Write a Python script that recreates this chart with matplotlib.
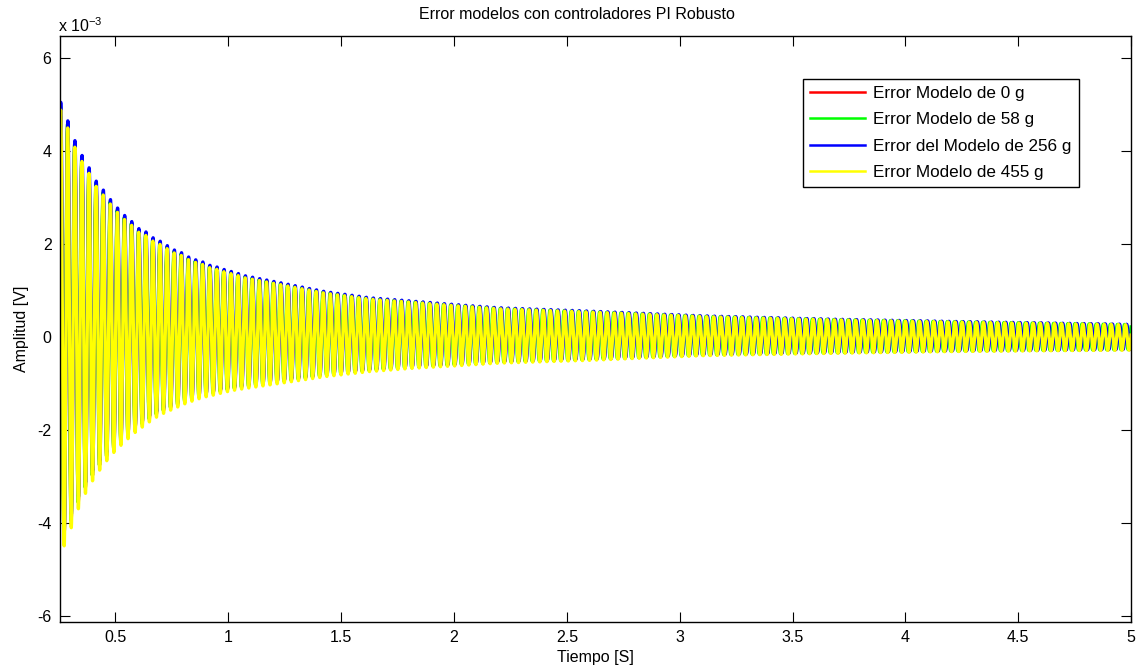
import numpy as np
import matplotlib
matplotlib.use("Agg")
import matplotlib.pyplot as plt
from matplotlib.ticker import FuncFormatter

plt.rcParams['font.family'] = ['Liberation Sans', 'DejaVu Sans']
plt.rcParams['mathtext.default'] = 'regular'

# Envelope of the error oscillation (units of 1e-3 V): upper and lower peaks
env_t = [0.254, 0.29, 0.32, 0.35, 0.385, 0.415, 0.45, 0.48, 0.51, 0.54, 0.57,
         0.60, 0.635, 0.665, 0.70, 0.73, 0.76, 0.79, 0.82, 0.85, 0.885, 0.915,
         0.95, 0.98, 1.01, 1.04, 1.07, 1.43, 1.63, 1.82, 2.0, 2.2, 2.6, 3.1,
         3.67, 4.23, 5.0]
env_upper = [5.00, 4.55, 4.15, 3.85, 3.56, 3.29, 3.08, 2.89, 2.72, 2.57, 2.45,
             2.30, 2.22, 2.10, 2.02, 1.93, 1.84, 1.79, 1.70, 1.64, 1.59, 1.52,
             1.48, 1.43, 1.39, 1.35, 1.30, 0.96, 0.83, 0.76, 0.69, 0.62, 0.55,
             0.45, 0.38, 0.33, 0.27]
env_lower = [-4.70, -4.30, -3.88, -3.52, -3.20, -2.96, -2.73, -2.55, -2.39,
             -2.26, -2.12, -2.00, -1.88, -1.77, -1.67, -1.60, -1.54, -1.47,
             -1.41, -1.36, -1.30, -1.27, -1.23, -1.19, -1.16, -1.13, -1.11,
             -0.85, -0.74, -0.67, -0.62, -0.56, -0.50, -0.40, -0.35, -0.31,
             -0.28]

# Oscillation of each model's error
labels = ['Error Modelo de 0 g', 'Error Modelo de 58 g',
          'Error del Modelo de 256 g', 'Error Modelo de 455 g']
colors = ['#ff0000', '#00ff00', '#0000ff', '#ffff00']
gain_upper = [0.995, 1.0, 1.02, 0.985]
gain_lower = [0.96, 0.96, 0.93, 1.0]
freq_hz = [31.77, 31.81, 31.76, 31.79]
phase_cycles = [0.015, 0.025, -0.015, 0.0]
t_first_peak = 0.257

t_start, t_end = 0.254, 5.0
y_scale = 1e-3

x_ticks = [0.5, 1, 1.5, 2, 2.5, 3, 3.5, 4, 4.5, 5]
y_ticks = [-6, -4, -2, 0, 2, 4, 6]

fig = plt.figure(figsize=(11.42, 6.72), dpi=100)
ax = fig.add_axes([0.0525, 0.0744, 0.9379, 0.872])

t = np.arange(t_start, t_end + 1e-9, 0.0004)
up = np.interp(t, env_t, env_upper)
lo = np.interp(t, env_t, env_lower)

for lab, col, gu, gl, f, ph in zip(labels, colors, gain_upper, gain_lower,
                                   freq_hz, phase_cycles):
    u = gu * up
    l = gl * lo
    wave = np.cos(2 * np.pi * (f * (t - t_first_peak) + ph))
    y = (u + l) / 2 + (u - l) / 2 * wave
    ax.plot(t, y * y_scale, color=col, lw=2.4, label=lab)

ax.set_xlim(t_start, t_end)
ax.set_ylim(-6.13 * y_scale, 6.48 * y_scale)
ax.set_xticks(x_ticks)
ax.set_xticklabels([f'{v:g}' for v in x_ticks])
ax.set_yticks([v * y_scale for v in y_ticks])
ax.yaxis.set_major_formatter(FuncFormatter(lambda v, p: f'{v / y_scale:.0f}'))

ax.tick_params(direction='in', length=7, width=0.8, top=True, right=True,
               labelsize=11.5, pad=6, colors='black')
for s in ax.spines.values():
    s.set_linewidth(1.0)

fig.text(0.051, 0.962, r'x 10$^{-3}$', fontsize=11.5, ha='left', va='center')
fig.text(0.5055, 0.979, 'Error modelos con controladores PI Robusto',
         fontsize=11.5, ha='center', va='center')
ax.set_xlabel('Tiempo [S]', fontsize=11.5, labelpad=3)
ax.set_ylabel('Amplitud [V]', fontsize=11.5, labelpad=6)

leg = ax.legend(loc='upper left', bbox_to_anchor=(0.703, 0.8824),
                bbox_transform=fig.transFigure, fontsize=12.3, frameon=True,
                fancybox=False, edgecolor='black', framealpha=1,
                handlelength=3.2, handletextpad=0.5, labelspacing=0.66,
                borderpad=0.42, borderaxespad=0)
leg.get_frame().set_linewidth(1.0)
for line in leg.get_lines():
    line.set_linewidth(1.8)

fig.savefig('out.png', dpi=100)
